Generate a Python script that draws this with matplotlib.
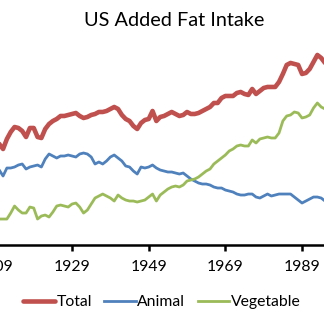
import numpy as np
import matplotlib
matplotlib.use("Agg")
import matplotlib.pyplot as plt

# yearly values (arbitrary units)
years = list(range(1909, 1997))

total = [106, 101, 96, 106, 113, 118, 117, 114, 108, 117,
         117, 108, 107, 116, 121, 124, 126, 129, 129, 130,
         131, 132, 129, 127, 128, 130, 131, 133, 133, 134,
         136, 138, 136, 130, 126, 124, 119, 116, 122, 125,
         126, 134, 124, 128, 129, 131, 133, 131, 129, 130,
         133, 131, 131, 132, 134, 136, 138, 142, 142, 147,
         149, 149, 149, 152, 153, 151, 150, 156, 151, 154,
         157, 158, 158, 158, 163, 171, 180, 182, 181, 180,
         171, 172, 176, 183, 190, 187, 182, 184]

animal = [79, 75, 69, 77, 77, 78, 80, 81, 76, 78,
          79, 80, 78, 86, 91, 89, 87, 89, 89, 90,
          89, 88, 91, 92, 91, 88, 81, 83, 81, 84,
          88, 90, 87, 84, 79, 78, 74, 71, 78, 77,
          78, 80, 77, 75, 74, 73, 73, 72, 71, 72,
          69, 66, 64, 62, 61, 61, 60, 58, 57, 57,
          55, 54, 53, 51, 50, 50, 51, 51, 48, 47,
          49, 51, 49, 50, 51, 51, 51, 51, 48, 45,
          42, 44, 46, 48, 48, 47, 44, 45]

vegetable = [26, 26, 26, 26, 32, 39, 35, 32, 32, 38,
             37, 26, 29, 30, 28, 33, 39, 40, 39, 38,
             41, 42, 38, 32, 35, 41, 47, 49, 51, 49,
             47, 44, 50, 47, 45, 44, 44, 43, 44, 45,
             48, 51, 44, 50, 53, 56, 58, 59, 58, 60,
             64, 65, 66, 68, 71, 74, 76, 81, 84, 87,
             90, 94, 96, 99, 100, 99, 99, 105, 102, 106,
             107, 108, 107, 107, 112, 124, 129, 130, 133, 132,
             127, 128, 130, 137, 142, 138, 136, 136]

tick_years = [1909, 1929, 1949, 1969, 1989]

plt.rcParams['font.family'] = ['Lato', 'DejaVu Sans']

fig = plt.figure(figsize=(3.24, 3.22), dpi=100)
# the picture is a crop of a wider chart, so the axes run past the figure edges
ax = fig.add_axes([-0.1207, 0.239, 1.183, 0.668])

ax.plot(years, total, color='#C0504D', lw=3.3, label='Total', solid_capstyle='round')
ax.plot(years, animal, color='#4F81BD', lw=2.0, label='Animal')
ax.plot(years, vegetable, color='#9BBB59', lw=2.0, label='Vegetable')

ax.set_xlim(1900, 2000)
ax.set_ylim(0, 215)
ax.set_xticks(tick_years)
ax.set_xticklabels([str(y) for y in tick_years], fontsize=11.3)
ax.set_yticks([])
ax.tick_params(axis='x', direction='out', length=4, width=1.8, pad=7)
for side in ['top', 'right', 'left']:
    ax.spines[side].set_visible(False)
ax.spines['bottom'].set_linewidth(1.8)

fig.text(0.537, 0.935, 'US Added Fat Intake', ha='center', va='center', fontsize=14.3)

fig.legend(loc='center', bbox_to_anchor=(0.5, 0.062), ncol=3, frameon=False,
           fontsize=11.3, handlelength=2.0, handletextpad=0.1, columnspacing=0.8)

fig.savefig('out.png', dpi=100)
